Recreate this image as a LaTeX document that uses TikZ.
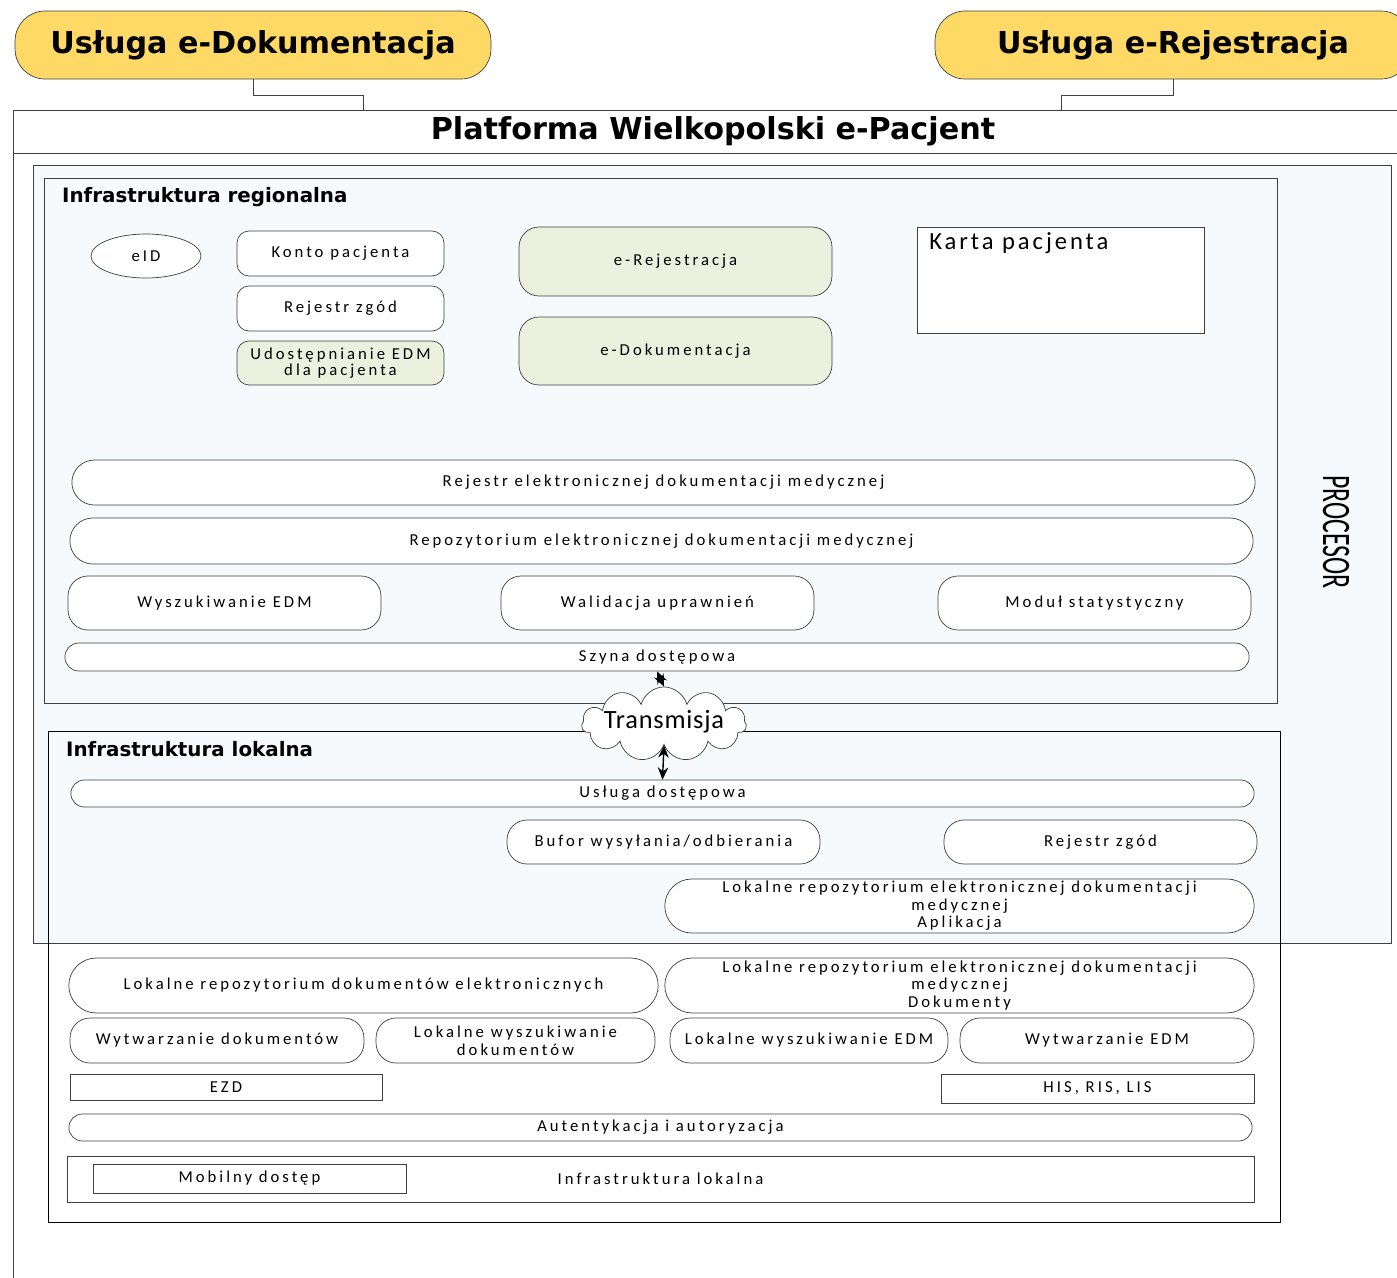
\documentclass[tikz,border=0pt]{standalone}
\usepackage{fontspec}
\setmainfont{Carlito}
\newfontfamily\headfont{DejaVu Sans}
\newfontfamily\spacedfont[LetterSpace=18]{Carlito}
\newfontfamily\kartafont[LetterSpace=12]{Carlito}
\newfontfamily\cloudfont[LetterSpace=3]{Carlito}
\usetikzlibrary{shapes.misc,shapes.symbols,shapes.geometric,arrows.meta}
\definecolor{usyellow}{RGB}{255,217,102}
\definecolor{modgreen}{RGB}{235,241,222}
\definecolor{procblue}{RGB}{246,250,252}
\definecolor{linegray}{RGB}{64,64,64}

\begin{document}
\begin{tikzpicture}[x=0.02cm, y=-0.02cm, >={Stealth[length=7pt,width=6pt]},
    txt/.style={font=\spacedfont\fontsize{9.5}{11}\selectfont, text=black, align=center},
    rbox/.style={txt, draw=linegray, fill=white, rounded corners=0.4cm, minimum width=6.26cm, minimum height=1.08cm},
    sbox/.style={txt, draw=linegray, fill=white, rounded corners=0.24cm, minimum width=4.14cm, minimum height=0.9cm, inner sep=1pt},
    pill/.style={txt, draw=linegray, fill=white, rounded rectangle, minimum width=23.74cm, minimum height=0.54cm, inner sep=1pt},
    plainbox/.style={txt, draw=linegray, fill=white, minimum width=6.26cm, minimum height=0.56cm},
    service/.style={draw=linegray, fill=usyellow, rounded corners=0.6cm, minimum width=9.52cm, minimum height=1.36cm,
        font=\headfont\bfseries\fontsize{17.2}{19}\selectfont}]

    \useasboundingbox (0,0) rectangle (1397,1278);

    % Platform frame
    \draw[linegray] (13,153) rectangle (1420,1300);
    \node[draw=linegray, fill=white, minimum width=28.14cm, minimum height=0.86cm, anchor=north west] (plat) at (13,110) {};
    \node[font=\headfont\bfseries\fontsize{17.2}{19}\selectfont] (plattitle) at (713,131) {Platforma Wielkopolski e-Pacjent};

    % Services
    \node[service] (usdok) at (253,45) {Usługa e-Dokumentacja};
    \node[service] (usrej) at (1173,45) {Usługa e-Rejestracja};
    \draw[linegray] (usdok.south) -- ++(0,16) -| ([xshift=7cm]plat.north west);
    \draw[linegray] (usrej.south) -- ++(0,16) -| ([xshift=20.98cm]plat.north west);

    % Processor and infrastructure frames
    \draw[linegray, fill=procblue] (33,165) rectangle (1391,943);
    \node[rotate=-90] (proc) at (1336,532) {\scalebox{0.64}[1]{\fontsize{23}{23}\selectfont PROCESOR}};
    \draw[linegray, fill=procblue] (44,178) rectangle (1277,703);
    \node[anchor=west, font=\headfont\bfseries\fontsize{11.3}{13}\selectfont] (regtitle) at (56,197) {Infrastruktura regionalna};
    \draw[black] (48,731) rectangle (1280,1222);
    \node[anchor=west, font=\headfont\bfseries\fontsize{11.3}{13}\selectfont] (loktitle) at (60,749) {Infrastruktura lokalna};

    % Regional modules
    \node[txt, draw=linegray, fill=white, ellipse, minimum width=2.2cm, minimum height=0.88cm] (eid) at (146,256) {eID};
    \node[sbox] (konto) at (340.5,253.5) {Konto pacjenta};
    \node[sbox] (zgody) at (340.5,308.5) {Rejestr zgód};
    \node[sbox, fill=modgreen, minimum height=0.88cm] (udost) at (340.5,363) {Udostępnianie EDM\\[-2pt]dla pacjenta};
    \node[rbox, fill=modgreen, minimum height=1.38cm] (erej) at (675.5,261.5) {e-Rejestracja};
    \node[rbox, fill=modgreen, minimum height=1.36cm] (edok) at (675.5,351) {e-Dokumentacja};
    \node[draw=linegray, fill=white, minimum width=5.74cm, minimum height=2.12cm,
        label={[anchor=north west, font=\kartafont\fontsize{14}{16}\selectfont, inner xsep=7pt, inner ysep=3pt]north west:Karta pacjenta}] (karta) at (1060.5,280) {};

    \node[pill, minimum height=0.9cm] (rejedm) at (663.5,482.5) {Rejestr elektronicznej dokumentacji medycznej};
    \node[pill, minimum height=0.92cm] (repedm) at (661.5,541) {Repozytorium elektronicznej dokumentacji medycznej};
    \node[rbox] (wyszedm) at (224.5,603) {Wyszukiwanie EDM};
    \node[rbox] (walid) at (657.5,603) {Walidacja uprawnień};
    \node[rbox] (modstat) at (1094.5,603) {Moduł statystyczny};
    \node[pill, minimum width=23.76cm, minimum height=0.56cm] (szyna) at (657,657) {Szyna dostępowa};

    % Transmission
    \node[draw=linegray, fill=white, cloud, cloud puffs=11, aspect=4, inner sep=0pt,
        font=\cloudfont\fontsize{15}{16}\selectfont] (trans) at (664,724)
        {\makebox[2.3cm]{\raisebox{0pt}[6pt][1pt]{Transmisja}}};

    % Local modules
    \node[pill] (usdost) at (662.5,793.5) {Usługa dostępowa};
    \draw[<->, thick] (szyna.south) -- (trans.north);
    \draw[<->, thick] (trans.south) -- (usdost.north);
    \node[rbox, minimum height=0.88cm] (bufor) at (663.5,842) {Bufor wysyłania/odbierania};
    \node[rbox, minimum height=0.88cm] (zgodylok) at (1100.5,842) {Rejestr zgód};
    \node[pill, minimum width=11.86cm, minimum height=1.08cm] (lredmapp) at (959.5,906) {Lokalne repozytorium elektronicznej dokumentacji\\[-1pt]medycznej\\[-1pt]Aplikacja};
    \node[pill, minimum width=11.86cm, minimum height=1.1cm] (lrdok) at (363.5,985.5) {Lokalne repozytorium dokumentów elektronicznych};
    \node[pill, minimum width=11.86cm, minimum height=1.1cm] (lredmdok) at (959.5,985.5) {Lokalne repozytorium elektronicznej dokumentacji\\[-1pt]medycznej\\[-1pt]Dokumenty};
    \node[rbox, minimum width=5.88cm, minimum height=0.9cm] (wytdok) at (217,1040.5) {Wytwarzanie dokumentów};
    \node[rbox, minimum width=5.58cm, minimum height=0.9cm] (wyszdok) at (515.5,1040.5) {Lokalne wyszukiwanie\\[-1pt]dokumentów};
    \node[rbox, minimum width=5.56cm, minimum height=0.9cm] (wyszlok) at (809,1040.5) {Lokalne wyszukiwanie EDM};
    \node[rbox, minimum width=5.88cm, minimum height=0.9cm] (wytedm) at (1107,1040.5) {Wytwarzanie EDM};
    \node[plainbox, minimum width=6.24cm, minimum height=0.52cm] (ezd) at (226,1087) {EZD};
    \node[plainbox, minimum height=0.58cm] (his) at (1097.5,1088.5) {HIS, RIS, LIS};
    \node[pill] (autent) at (660.5,1127.5) {Autentykacja i autoryzacja};
    \node[plainbox, minimum width=23.74cm, minimum height=0.92cm] (infralok) at (660.5,1179) {Infrastruktura lokalna};
    \node[plainbox, minimum height=0.58cm] (mobil) at (249.5,1178.5) {Mobilny dostęp};

\end{tikzpicture}
\end{document}
